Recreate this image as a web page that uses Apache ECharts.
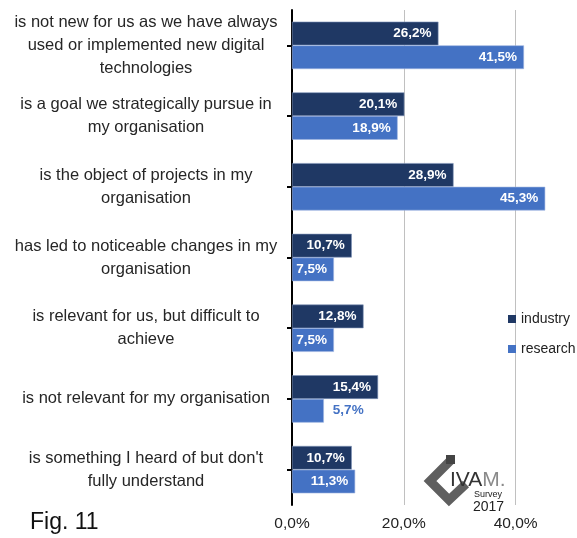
<!DOCTYPE html>
<html lang="en">
<head>
  <meta charset="UTF-8">
  <title>Fig. 11</title>
  <style>
    html, body { margin: 0; padding: 0; background: #fff; }
    #chart { width: 577px; height: 538px; }
  </style>
</head>
<body>
  <div id="chart"></div>
  <script src="https://cdn.jsdelivr.net/npm/echarts@6/dist/echarts.min.js"></script>
  <script>
    // statements, top to bottom
    var categories = [
      'is not new for us as we have always\nused or implemented new digital\ntechnologies',
      'is a goal we strategically pursue in\nmy organisation',
      'is the object of projects in my\norganisation',
      'has led to noticeable changes in my\norganisation',
      'is relevant for us, but difficult to\nachieve',
      'is not relevant for my organisation',
      'is something I heard of but don\'t\nfully understand'
    ];
    var industry = [26.2, 20.1, 28.9, 10.7, 12.8, 15.4, 10.7];
    var research = [41.5, 18.9, 45.3, 7.5, 7.5, 5.7, 11.3];
    var xTicks = [0, 20, 40];

    var font = '"Liberation Sans", Arial, sans-serif';

    function pct(v) {
      return v.toFixed(1).replace('.', ',') + '%';
    }

    // short bars get their label outside the bar
    function toItems(values, color) {
      return values.map(function (v) {
        if (v < 6) {
          return { value: v, label: { position: 'right', distance: 9, color: color } };
        }
        return v;
      });
    }

    function barLabel() {
      return {
        show: true,
        position: 'insideRight',
        distance: 7,
        color: '#fff',
        fontFamily: font,
        fontWeight: 'bold',
        fontSize: 13.5,
        formatter: function (p) { return pct(p.value); }
      };
    }

    var chart = echarts.init(document.getElementById('chart'));
    chart.setOption({
      animation: false,
      grid: { left: 292, right: 61.4, top: 10, bottom: 33 },
      legend: {
        orient: 'vertical',
        left: 508,
        top: 312,
        padding: 0,
        itemGap: 16,
        itemWidth: 8,
        itemHeight: 8,
        itemTextGap: 5,
        icon: 'rect',
        itemStyle: { borderWidth: 0 },
        textStyle: { fontFamily: font, fontSize: 14, color: '#222' },
        data: ['industry', 'research']
      },
      xAxis: {
        type: 'value',
        min: xTicks[0],
        max: xTicks[xTicks.length - 1],
        interval: 20,
        axisLine: { show: false },
        axisTick: { show: false },
        splitLine: { lineStyle: { color: '#c0c0c0', width: 1 } },
        axisLabel: {
          margin: 11,
          fontFamily: font,
          fontSize: 15.5,
          color: '#222',
          formatter: function (v) { return pct(v); }
        }
      },
      yAxis: {
        type: 'category',
        inverse: true,
        data: categories,
        axisLine: { show: true, lineStyle: { color: '#000', width: 2 } },
        axisTick: { show: true, alignWithLabel: true, length: 5, lineStyle: { color: '#000', width: 2 } },
        axisLabel: {
          align: 'center',
          margin: 146,
          fontFamily: font,
          fontSize: 16.5,
          lineHeight: 23,
          color: '#262626'
        }
      },
      series: [
        {
          name: 'industry',
          type: 'bar',
          clip: false,
          barGap: '0%',
          barCategoryGap: '33%',
          data: toItems(industry, '#1F3864'),
          itemStyle: { color: '#1F3864', borderColor: '#7f93b8', borderWidth: 0.6 },
          label: barLabel()
        },
        {
          name: 'research',
          type: 'bar',
          clip: false,
          barGap: '0%',
          barCategoryGap: '33%',
          data: toItems(research, '#4472C4'),
          itemStyle: { color: '#4472C4', borderColor: '#9db4e0', borderWidth: 0.6 },
          label: barLabel()
        }
      ],
      graphic: [
        {
          type: 'text',
          left: 30,
          top: 511,
          style: { text: 'Fig. 11', font: '23px ' + font, fill: '#111' }
        },
        // IVAM survey logo
        {
          type: 'polyline',
          shape: { points: [[451, 460], [430, 481], [449, 500], [466, 484]] },
          style: { stroke: '#5f5f5f', lineWidth: 9, fill: null, lineJoin: 'miter' }
        },
        {
          type: 'rect',
          shape: { x: 446, y: 455, width: 9, height: 9 },
          style: { fill: '#444' }
        },
        {
          type: 'text',
          left: 450,
          top: 470,
          style: {
            text: '{a|IVA}{b|M.}',
            rich: {
              a: { font: '21px ' + font, fill: '#333' },
              b: { font: '21px ' + font, fill: '#8a8a8a' }
            }
          }
        },
        {
          type: 'text',
          left: 474,
          top: 490,
          style: { text: 'Survey', font: '9px ' + font, fill: '#222' }
        },
        {
          type: 'text',
          left: 473,
          top: 500,
          style: { text: '2017', font: '14px ' + font, fill: '#222' }
        }
      ]
    });
  </script>
</body>
</html>
